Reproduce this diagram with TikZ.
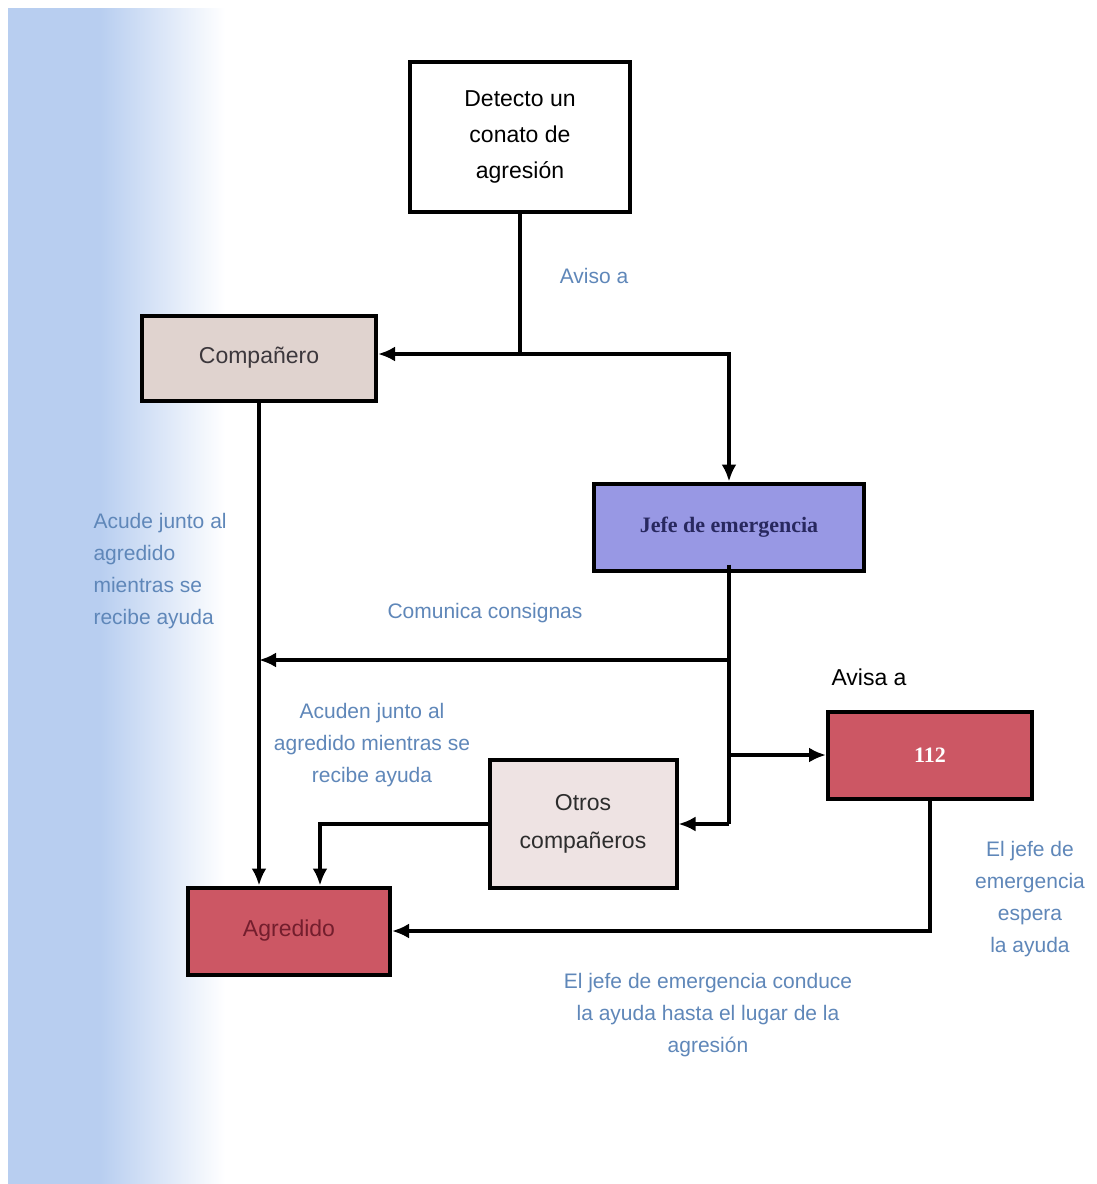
\documentclass[tikz,border=0pt]{standalone}
\usepackage{fontspec}
\setmainfont{Liberation Sans}
\newfontfamily\serifb{Liberation Serif}
\usetikzlibrary{arrows.meta}

\definecolor{bgblue}{RGB}{184,206,240}
\definecolor{lbl}{RGB}{95,135,185}
\definecolor{cmpfill}{RGB}{224,211,207}
\definecolor{jefefill}{RGB}{152,152,228}
\definecolor{redfill}{RGB}{204,87,100}
\definecolor{otrosfill}{RGB}{238,227,227}

\begin{document}
\begin{tikzpicture}[x=1pt,y=-1pt,
    box/.style={draw=black,line width=4pt,inner sep=0pt,align=center,
      font=\fontsize{23}{36}\selectfont},
    wire/.style={line width=3.6pt},
    arr/.style={wire,-{Latex[length=17pt,width=15pt]}},
    lab/.style={text=lbl,align=center,font=\fontsize{21}{32}\selectfont}]
  \useasboundingbox (0,0) rectangle (1096,1184);
  \fill[white] (0,0) rectangle (1096,1184);
  \fill[bgblue] (8,8) rectangle (100,1184);
  \shade[left color=bgblue,right color=white] (100,8) rectangle (225,1184);

  % cajas
  \node[box,fill=white,minimum width=220pt,minimum height=150pt] (det) at (520,137)
    {Detecto un\\conato de\\agresión};
  \node[box,fill=cmpfill,text={rgb,255:red,60;green,55;blue,60},
    minimum width=234pt,minimum height=85pt] (cmp) at (259,358) {Compañero};
  \node[box,fill=jefefill,text={rgb,255:red,40;green,40;blue,95},
    font=\serifb\bfseries\fontsize{22}{26}\selectfont,
    minimum width=270pt,minimum height=87pt] (jefe) at (729,527) {Jefe de emergencia};
  \node[box,fill=redfill,text=white,font=\serifb\bfseries\fontsize{22}{26}\selectfont,
    minimum width=204pt,minimum height=87pt] (t112) at (930,755) {112};
  \node[box,fill=otrosfill,text={rgb,255:red,45;green,45;blue,45},
    font=\fontsize{23}{38}\selectfont,
    minimum width=187pt,minimum height=128pt] (otros) at (583,824) {Otros\\compañeros};
  \node[box,fill=redfill,text={rgb,255:red,115;green,30;blue,45},
    minimum width=202pt,minimum height=87pt] (agr) at (289,931) {Agredido};

  % conexiones
  \draw[wire] (det.south) -- (det.south |- 0,354) coordinate (s1);
  \draw[arr] (s1) -- (cmp.east |- s1);
  \draw[arr] (s1) -| (jefe.north);
  \draw[arr] (cmp.south) -- (cmp.south |- agr.north);
  \draw[wire] ([yshift=8pt]jefe.south) -- (jefe.south |- otros.east) coordinate (s2);
  \draw[arr] (s2) -- (otros.east);
  \draw[arr] (jefe.south |- 0,660) -- (cmp.south |- 0,660);
  \draw[arr] (jefe.south |- t112.west) -- (t112.west);
  \draw[arr] (otros.west) -| ([xshift=31pt]agr.north);
  \draw[arr] (t112.south) |- (agr.east);

  % textos
  \node[lab] (l1) at (594,276) {Aviso a};
  \node[lab,align=left,anchor=north west] (l2) at (90,510)
    {Acude junto al\\agredido\\mientras se\\recibe ayuda};
  \node[lab] (l3) at (485,613) {Comunica consignas};
  \node[font=\fontsize{23}{28}\selectfont] (l4) at (869,677) {Avisa a};
  \node[lab] (l5) at (372,745) {Acuden junto al\\agredido mientras se\\recibe ayuda};
  \node[lab] (l6) at (1030,899) {El jefe de\\emergencia\\espera\\la ayuda};
  \node[lab] (l7) at (708,1015)
    {El jefe de emergencia conduce\\la ayuda hasta el lugar de la\\agresión};
\end{tikzpicture}
\end{document}
